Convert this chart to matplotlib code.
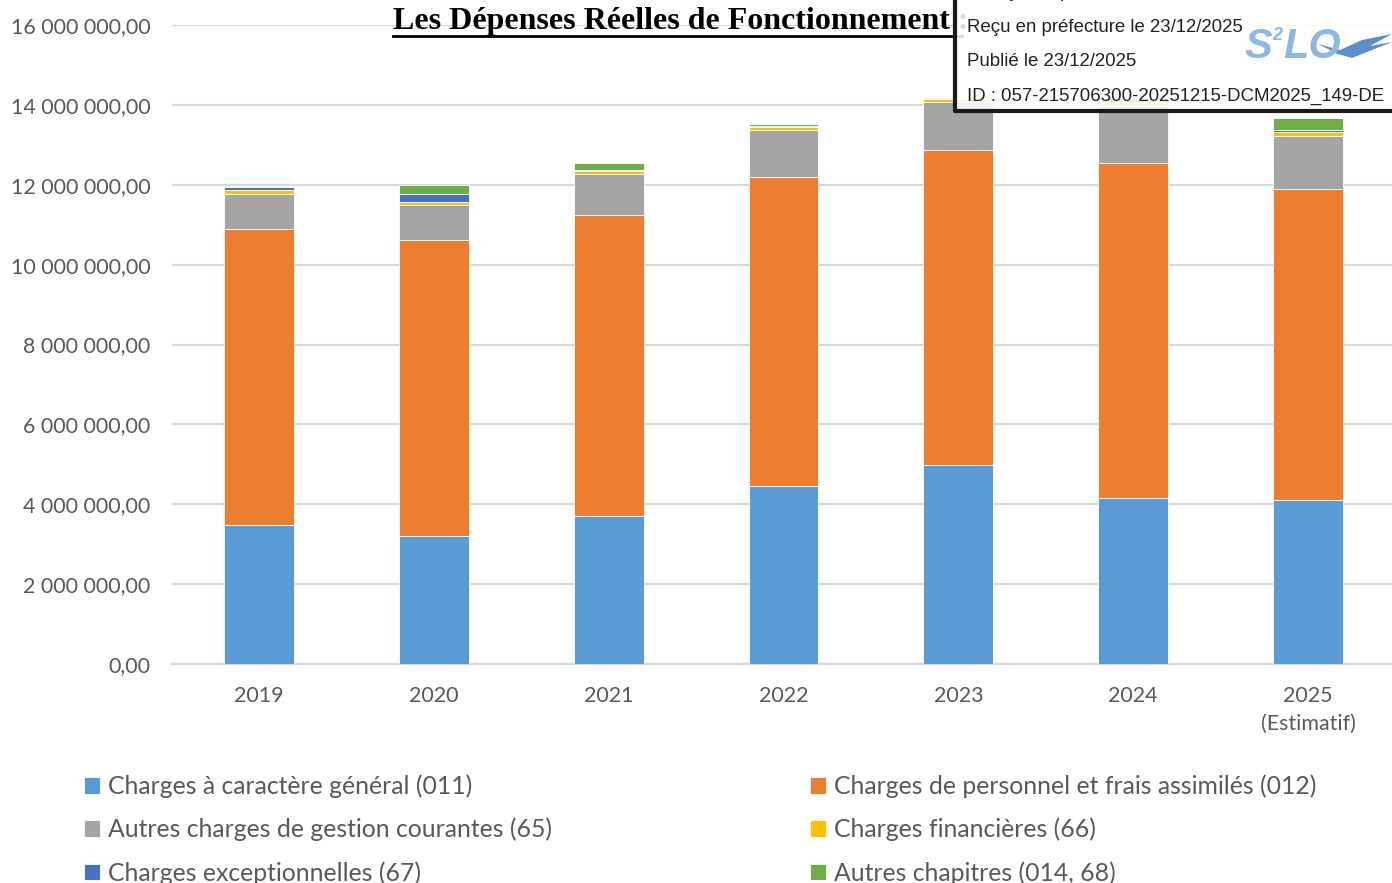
import matplotlib
matplotlib.use("Agg")
import matplotlib.pyplot as plt
from matplotlib.patches import Rectangle, Polygon
from matplotlib.lines import Line2D
import numpy as np

years = ["2019", "2020", "2021", "2022", "2023", "2024", "2025\n(Estimatif)"]
# valeurs en euros
charges_011 = [3480000, 3200000, 3710000, 4460000, 4980000, 4160000, 4110000]
charges_012 = [7410000, 7420000, 7540000, 7730000, 7890000, 8380000, 7780000]
charges_65 = [880000, 880000, 1010000, 1180000, 1200000, 1430000, 1340000]
charges_66 = [90000, 80000, 75000, 70000, 75000, 80000, 100000]
charges_67 = [80000, 180000, 30000, 30000, 30000, 30000, 40000]
charges_68 = [30000, 240000, 190000, 50000, 20000, 80000, 300000]

series = [
    ("Charges à caractère général (011)", charges_011, "#5B9BD5"),
    ("Charges de personnel et frais assimilés (012)", charges_012, "#ED7D31"),
    ("Autres charges de gestion courantes (65)", charges_65, "#A5A5A5"),
    ("Charges financières (66)", charges_66, "#FFC000"),
    ("Charges exceptionnelles (67)", charges_67, "#4472C4"),
    ("Autres chapitres (014, 68)", charges_68, "#70AD47"),
]

plt.rcParams["font.family"] = ["Lato", "DejaVu Sans"]
W, H = 1392, 883
fig = plt.figure(figsize=(W / 100, H / 100), dpi=100)
ax = fig.add_axes([171.5 / W, 1 - 664 / H, 1224 / W, 639 / H])

x = np.arange(len(years))
bottom = np.zeros(len(years))
handles = []
for label, vals, col in series:
    b = ax.bar(x, vals, 0.4, bottom=bottom, color=col, edgecolor="white",
               linewidth=0.6, label=label, zorder=3)
    handles.append(b)
    bottom += np.array(vals)

ax.set_xlim(-0.5, 6.5)
ax.set_ylim(0, 16000000)
ax.set_yticks(np.arange(0, 16000001, 2000000))
ax.set_yticklabels([f"{v // 1000000} 000 000,00" if v else "0,00"
                    for v in range(0, 16000001, 2000000)])
ax.set_xticks(x)
ax.set_xticklabels(years)
ax.grid(axis="y", color="#D9D9D9", linewidth=1.6, zorder=0)
for s in ["top", "right", "left"]:
    ax.spines[s].set_visible(False)
ax.spines["bottom"].set_color("#D9D9D9")
ax.spines["bottom"].set_linewidth(1.6)
ax.tick_params(axis="y", length=0, pad=15, labelsize=15.4, labelcolor="#595959")
ax.tick_params(axis="x", length=0, pad=16, labelsize=15.4, labelcolor="#595959")
for t in ax.get_xticklabels():
    t.set_linespacing(1.5)

# légende en deux colonnes
lg_kw = dict(frameon=False, fontsize=17.8, handlelength=0.65, handleheight=0.65,
             handletextpad=0.3, labelspacing=0.8, borderpad=0, labelcolor="#595959")
leg1 = fig.legend([handles[0], handles[2], handles[4]],
                  [series[0][0], series[2][0], series[4][0]],
                  loc="upper left", bbox_to_anchor=(72 / W, 1 - 762 / H), **lg_kw)
leg2 = fig.legend([handles[1], handles[3], handles[5]],
                  [series[1][0], series[3][0], series[5][0]],
                  loc="upper left", bbox_to_anchor=(798 / W, 1 - 762 / H), **lg_kw)

# titre souligné
fig.text(393 / W, 1 - 21 / H, "Les Dépenses Réelles de Fonctionnement :",
         family="Liberation Serif", fontweight="bold", fontsize=23,
         ha="left", va="center", color="black")
fig.add_artist(Line2D([393 / W, 962 / W], [1 - 36 / H, 1 - 36 / H],
                      color="black", linewidth=2))

# tampon de télétransmission
fig.add_artist(Rectangle((955 / W, 1 - 111 / H), 1, 1, facecolor="white", alpha=0.85,
                         edgecolor="none", zorder=5))
fig.add_artist(Line2D([955 / W, 955 / W, 1.0], [1.0, 1 - 111 / H, 1 - 111 / H],
                      color="#1A1A1A", linewidth=3, zorder=6))
stamp = ["Envoyé en préfecture le 23/12/2025", "Reçu en préfecture le 23/12/2025",
         "Publié le 23/12/2025", "ID : 057-215706300-20251215-DCM2025_149-DE"]
for i, s in enumerate(stamp):
    fig.text(967 / W, 1 - (-7.5 + 34.5 * i) / H, s, family="Liberation Sans",
             fontsize=13.4, color="#222222", ha="left", va="center", zorder=7)

# logo S²LO
fig.text(1244 / W, 1 - 47 / H, "S", fontsize=30, fontweight="bold", style="italic",
         color="#8DB8E2", ha="left", va="center", family="Liberation Sans", zorder=7)
fig.text(1272 / W, 1 - 35 / H, "2", fontsize=13, fontweight="bold", style="italic",
         color="#8DB8E2", ha="left", va="center", family="Liberation Sans", zorder=7)
fig.text(1283 / W, 1 - 47 / H, "LO", fontsize=30, fontweight="bold", style="italic",
         color="#8DB8E2", ha="left", va="center", family="Liberation Sans", zorder=7)
wing = np.array([[1318, 44], [1340, 50], [1362, 40], [1392, 34], [1370, 46],
                 [1392, 42], [1352, 58], [1338, 54]])
fig.add_artist(Polygon(np.column_stack([wing[:, 0] / W, 1 - wing[:, 1] / H]),
                       closed=True, facecolor="#5B8FC9", edgecolor="none", zorder=7))

fig.savefig("out.png", dpi=100)
